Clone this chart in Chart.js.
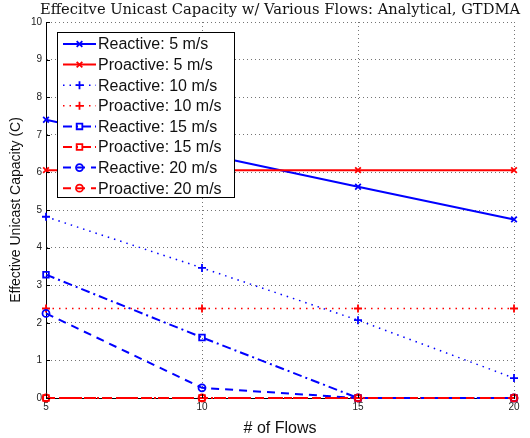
<!DOCTYPE html>
<html>
<head>
<meta charset="utf-8">
<script src="https://cdn.jsdelivr.net/npm/chart.js@4.4.1/dist/chart.umd.min.js"></script>
<style>
  html, body { margin: 0; padding: 0; background: #fff; }
  #wrap { width: 530px; height: 438px; }
</style>
</head>
<body>
<div id="wrap"><canvas id="chart-1" width="530" height="438"></canvas></div>
<script>
const flows = [5, 10, 15, 20];

const reactive5 = [7.4, 6.5, 5.62, 4.75];
const proactive5 = [6.06, 6.06, 6.06, 6.06];
const reactive10 = [4.82, 3.46, 2.07, 0.53];
const proactive10 = [2.38, 2.38, 2.38, 2.38];
const reactive15 = [3.28, 1.61, 0, 0];
const proactive15 = [0, 0, 0, 0];
const reactive20 = [2.25, 0.27, 0, 0];
const proactive20 = [0, 0, 0, 0];

const yTicks = [0, 1, 2, 3, 4, 5, 6, 7, 8, 9, 10];
const xTicks = [5, 10, 15, 20];

const BLUE = 'rgb(0,0,255)';
const RED = 'rgb(255,0,0)';

function pts(vals) {
  return vals.map((v, i) => ({x: flows[i], y: v}));
}

function series(label, vals, color, dash, marker, width) {
  return {
    label: label,
    data: pts(vals),
    borderColor: color,
    backgroundColor: 'transparent',
    borderWidth: width,
    borderDash: dash,
    pointStyle: marker,
    pointRadius: marker === 'circle' ? 3.5 : 4,
    pointBorderColor: color,
    pointBackgroundColor: 'transparent',
    pointBorderWidth: 1.8,
    tension: 0,
    fill: false,
    clip: false
  };
}

const SOLID = [];
const DOTTED = [1.5, 5];
const DASHDOT = [9, 4, 2, 4];
const DASHED = [8, 6];

const datasets = [
  series('Reactive: 5 m/s', reactive5, BLUE, SOLID, 'crossRot', 2),
  series('Proactive: 5 m/s', proactive5, RED, SOLID, 'crossRot', 2),
  series('Reactive: 10 m/s', reactive10, BLUE, DOTTED, 'cross', 1.5),
  series('Proactive: 10 m/s', proactive10, RED, DOTTED, 'cross', 1.5),
  series('Reactive: 15 m/s', reactive15, BLUE, DASHDOT, 'rect', 2),
  series('Proactive: 15 m/s', proactive15, RED, DASHDOT, 'rect', 2),
  series('Reactive: 20 m/s', reactive20, BLUE, DASHED, 'circle', 2),
  series('Proactive: 20 m/s', proactive20, RED, DASHED, 'circle', 2)
];
// later series drawn on top, as in the original
datasets.forEach((d, i) => { d.order = datasets.length - i; });

const TITLE = 'Effecitve Unicast Capacity w/ Various Flows: Analytical, GTDMA';

const extras = {
  id: 'extras',
  afterDraw(chart) {
    const ctx = chart.ctx;
    const a = chart.chartArea;
    const xs = chart.scales.x, ys = chart.scales.y;
    ctx.save();

    // inward tick marks
    ctx.strokeStyle = '#000';
    ctx.lineWidth = 1;
    ctx.setLineDash([]);
    ctx.beginPath();
    yTicks.forEach(t => {
      const y = Math.round(ys.getPixelForValue(t)) + 0.5;
      ctx.moveTo(a.left, y); ctx.lineTo(a.left + 4, y);
    });
    xTicks.forEach(t => {
      const x = Math.round(xs.getPixelForValue(t)) + 0.5;
      ctx.moveTo(x, a.bottom); ctx.lineTo(x, a.bottom - 4);
    });
    ctx.stroke();

    // title
    ctx.fillStyle = '#111';
    ctx.font = '14.7px "DejaVu Serif"';
    ctx.textAlign = 'center';
    ctx.textBaseline = 'middle';
    ctx.fillText(TITLE, (a.left + a.right) / 2, 10);

    // legend box
    const bx = 57, by = 32, bw = 177, bh = 165;
    ctx.fillStyle = '#fff';
    ctx.fillRect(bx, by, bw, bh);
    ctx.strokeStyle = '#000';
    ctx.lineWidth = 1;
    ctx.strokeRect(bx + 0.5, by + 0.5, bw, bh);
    ctx.font = '16px "Liberation Sans"';
    ctx.textAlign = 'left';
    datasets.forEach((d, i) => {
      const cy = by + 12 + i * 20.6;
      ctx.strokeStyle = d.borderColor;
      ctx.lineWidth = d.borderWidth;
      ctx.setLineDash(d.borderDash);
      ctx.beginPath();
      ctx.moveTo(63, cy); ctx.lineTo(96, cy);
      ctx.stroke();
      ctx.setLineDash([]);
      ctx.fillStyle = 'rgba(0,0,0,0)';
      ctx.lineWidth = d.pointBorderWidth;
      Chart.helpers.drawPoint(ctx, {
        pointStyle: d.pointStyle,
        radius: d.pointRadius,
        rotation: 0,
        borderWidth: d.pointBorderWidth
      }, 79.5, cy);
      ctx.fillStyle = '#111';
      ctx.fillText(d.label, 98, cy + 1);
    });
    ctx.restore();
  }
};

const config1 = {
  type: 'line',
  data: { datasets: datasets },
  options: {
    responsive: false,
    animation: false,
    layout: { padding: { top: 22, right: 16, left: 0, bottom: 0 } },
    plugins: {
      legend: { display: false },
      title: { display: false },
      tooltip: { enabled: false }
    },
    scales: {
      x: {
        type: 'linear',
        min: 5,
        max: 20,
        afterBuildTicks: s => { s.ticks = xTicks.map(v => ({value: v})); },
        afterFit: s => { s.height = 40; },
        grid: { color: 'rgba(70,70,70,0.75)', lineWidth: 1, drawTicks: false },
        border: { display: true, color: '#000', width: 1, dash: [1, 3] },
        ticks: { color: '#222', font: { family: 'Liberation Sans', size: 10 }, padding: 3, maxRotation: 0 },
        title: { display: true, text: '# of Flows', color: '#111', font: { family: 'Liberation Sans', size: 16 }, padding: { top: 0, bottom: 0 } }
      },
      y: {
        type: 'linear',
        min: 0,
        max: 10,
        afterBuildTicks: s => { s.ticks = yTicks.map(v => ({value: v})); },
        afterFit: s => { s.width = 46; },
        grid: { color: 'rgba(70,70,70,0.75)', lineWidth: 1, drawTicks: false },
        border: { display: true, color: '#000', width: 1, dash: [1, 3] },
        ticks: { color: '#222', font: { family: 'Liberation Sans', size: 10 }, padding: 4 },
        title: { display: true, text: 'Effective Unicast Capacity (C)', color: '#111', font: { family: 'Liberation Sans', size: 14 }, padding: { top: 8, bottom: 0 } }
      }
    }
  },
  plugins: [extras]
};

const ctx1 = document.getElementById('chart-1');
const chart1 = new Chart(ctx1, config1);
</script>
</body>
</html>
